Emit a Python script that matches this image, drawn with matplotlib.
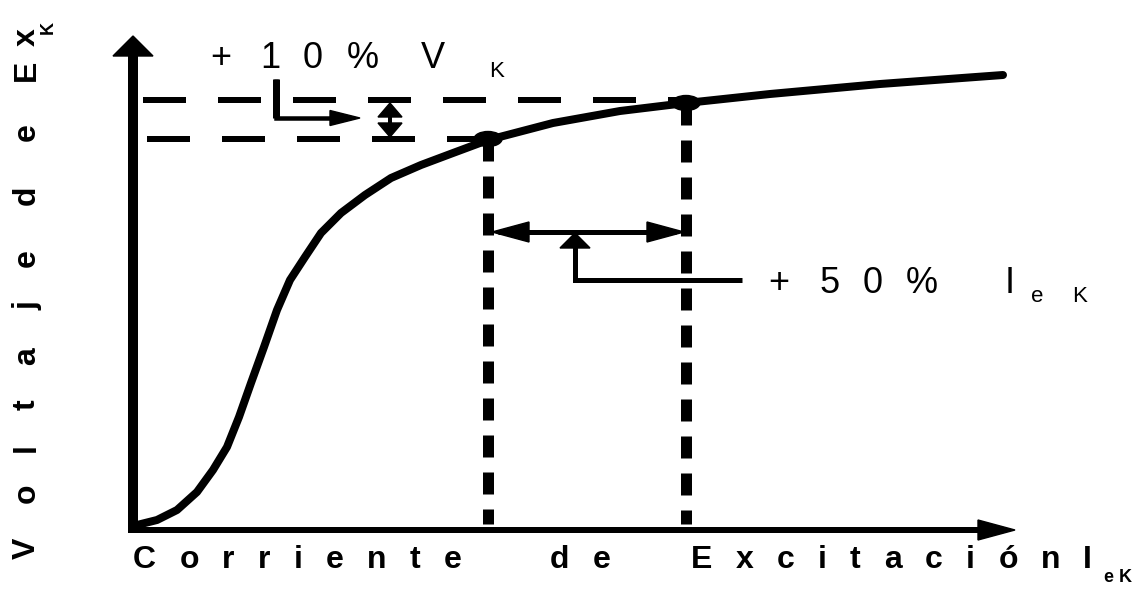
import matplotlib
matplotlib.use("Agg")
import matplotlib.pyplot as plt
from matplotlib.patches import Ellipse, Polygon
from matplotlib.font_manager import FontProperties

plt.rcParams['lines.scale_dashes'] = False

# ---------------- data (diagram units, origin at the axes corner) ----------------
curve_x = [4, 24, 44, 64, 80, 94, 106, 118, 131, 144, 157, 172, 188, 208, 232, 258,
           288, 320, 355, 420, 487, 553, 637, 747, 870]
curve_y = [5, 10, 20, 38, 60, 83, 113, 147, 183, 220, 250, 273, 297, 317, 335, 352,
           365, 377, 390, 407, 419, 427, 436, 446, 455]
point_x = [355, 553]          # operating points: knee and +50 % excitation
point_y = [391, 427]
x_label = ["Corriente", "de", "Excitación", "I"]
x_label_sub = ["e", "K"]
y_label = "VoltajedeEx"
y_label_sub = "K"
ann_v = ["+", "1", "0", "%", "V"]
ann_v_sub = "K"
ann_i = ["+", "5", "0", "%", "I"]
ann_i_sub = ["e", "K"]

FONT = "Liberation Sans"
PX = 0.72  # points per pixel at dpi 100

fig = plt.figure(figsize=(11.38, 5.90), dpi=100)
ax = fig.add_axes([0, 0, 1, 1])
ax.set_xlim(-133, 1005)
ax.set_ylim(-60, 530)
ax.axis("off")

# ---------------- axes with arrows ----------------
ax.plot([0, 0], [-3, 476], color="black", lw=10 * PX, solid_capstyle="butt")
ax.add_patch(Polygon([(-20, 474), (20, 474), (0, 494)], closed=True, color="black"))
ax.plot([-5, 847], [0, 0], color="black", lw=6 * PX, solid_capstyle="butt")
ax.add_patch(Polygon([(845, -10), (845, 10), (882, 0)], closed=True, color="black"))

# ---------------- magnetisation curve ----------------
ax.plot(curve_x, curve_y, color="black", lw=8 * PX, solid_capstyle="round",
        solid_joinstyle="round", zorder=4)
for px_, py_ in zip(point_x, point_y):
    ax.add_patch(Ellipse((px_, py_), 28, 15, color="black", zorder=5))

# ---------------- dashed guide lines ----------------
hdash = (0, (43 * PX, 32 * PX))
ax.plot([10, point_x[1]], [point_y[1] + 3, point_y[1] + 3], color="black", lw=6 * PX,
        linestyle=hdash, dash_capstyle="butt")
ax.plot([14, point_x[0]], [point_y[0], point_y[0]], color="black", lw=6 * PX,
        linestyle=hdash, dash_capstyle="butt")
vdash = (0, (22 * PX, 15 * PX))
for px_, py_ in zip(point_x, point_y):
    ax.plot([px_, px_], [py_, 6], color="black", lw=11 * PX, linestyle=vdash,
            dash_capstyle="butt")


def head(tip, direction, length, half):
    x, y = tip
    dx, dy = direction
    bx, by = x - dx * length, y - dy * length
    nx, ny = -dy, dx
    ax.add_patch(Polygon([(x, y), (bx + nx * half, by + ny * half),
                          (bx - nx * half, by - ny * half)], closed=True,
                         color="black", zorder=6))


# double arrow between the two currents
ya = 298
ax.plot([point_x[0] + 10, point_x[1] - 10], [ya, ya], color="black", lw=5 * PX,
        solid_capstyle="butt")
head((point_x[0] + 4, ya), (-1, 0), 37, 10)
head((point_x[1] - 2, ya), (1, 0), 37, 10)
# pointer to +50 % label
ax.plot([442, 442, 609], [284, 250, 250], color="black", lw=5 * PX,
        solid_joinstyle="miter", solid_capstyle="butt")
head((442, 297), (0, 1), 15, 15)

# L-pointer for +10 %
ax.plot([143, 143, 200], [451, 412, 412], color="black", lw=4.5 * PX,
        solid_joinstyle="miter", solid_capstyle="butt")
ax.plot([143, 143], [451, 412], color="black", lw=7 * PX, solid_capstyle="butt")
head((227, 412), (1, 0), 30, 7.5)
# small double arrow between the two voltages
ax.plot([257, 257], [414, 406], color="black", lw=4 * PX, solid_capstyle="butt")
head((257, 427), (0, 1), 14, 12)
head((257, 393), (0, -1), 14, 12)

# ---------------- text ----------------
renderer = fig.canvas.get_renderer()


def adv(ch, fp):
    w, h, d = renderer.get_text_width_height_descent(ch, fp, ismath=False)
    return w


fb = FontProperties(family=FONT, size=23, weight="bold")
fbs = FontProperties(family=FONT, size=13, weight="bold")

# x label: letter-spaced; intra-word gap fitted to the span of the first word
span_first = 329
g = (span_first - sum(adv(c, fb) for c in x_label[0])) / (len(x_label[0]) - 1)
word_gaps = [88, 80, 22]
pos = 0.0
for wi, word in enumerate(x_label):
    if wi:
        pos += word_gaps[wi - 1] - g
    for ch in word:
        ax.text(pos, -38, ch, fontproperties=fb, ha="left", va="baseline")
        pos += adv(ch, fb) + g
ax.text(pos - g + 17, -52, x_label_sub[0], fontproperties=fbs, ha="center", va="baseline")
ax.text(pos - g + 34, -52, x_label_sub[1], fontproperties=fbs, ha="center", va="baseline")

# y label (rotated), letter centres along the axis
y_centres = [-18, 37, 82, 125, 174, 224, 272, 335, 398, 460, 493]
for ch, yc in zip(y_label, y_centres):
    ax.text(-98, yc, ch, fontproperties=fb, ha="center", va="baseline",
            rotation=90, rotation_mode="anchor")
ax.text(-80, 502, y_label_sub, fontproperties=fbs, ha="center", va="baseline",
        rotation=90, rotation_mode="anchor")

# annotations
fa = FontProperties(family=FONT, size=26)
fs = FontProperties(family=FONT, size=16)
for ch, cx in zip(ann_v, [88, 137, 180, 230, 300]):
    ax.text(cx, 462, ch, fontproperties=fa, ha="center", va="baseline")
ax.text(364, 453, ann_v_sub, fontproperties=fs, ha="center", va="baseline")
for ch, cx in zip(ann_i, [646, 697, 740, 789, 877]):
    ax.text(cx, 237, ch, fontproperties=fa, ha="center", va="baseline")
for ch, cx in zip(ann_i_sub, [904, 947]):
    ax.text(cx, 228, ch, fontproperties=fs, ha="center", va="baseline")

fig.savefig("out.png", dpi=100)
